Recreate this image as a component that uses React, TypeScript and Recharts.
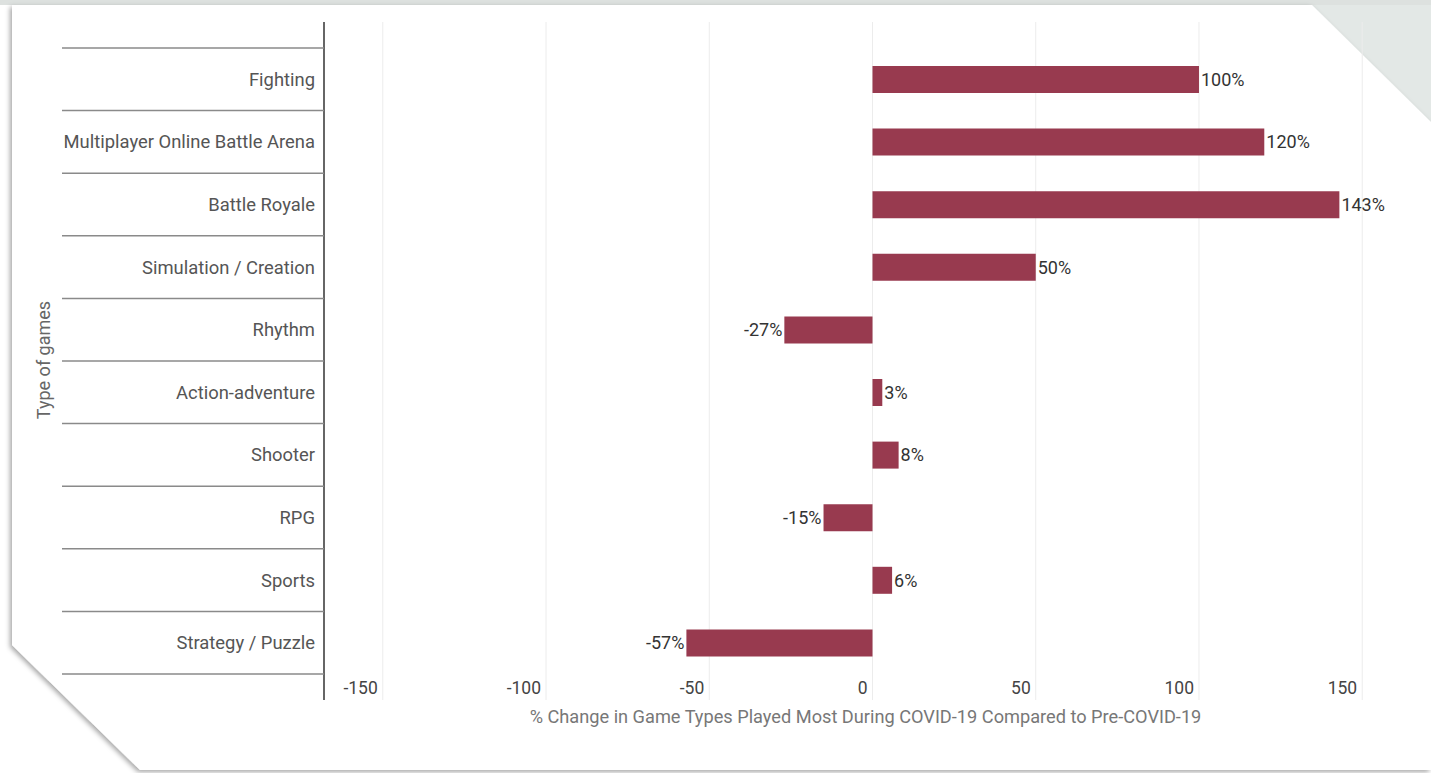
import React from 'react';
import { BarChart, Bar, XAxis, YAxis, CartesianGrid, LabelList } from 'recharts';

// categories, top to bottom
const gameTypes = [
  'Fighting',
  'Multiplayer Online Battle Arena',
  'Battle Royale',
  'Simulation / Creation',
  'Rhythm',
  'Action-adventure',
  'Shooter',
  'RPG',
  'Sports',
  'Strategy / Puzzle',
];

// % change
const changeValues = [100, 120, 143, 50, -27, 3, 8, -15, 6, -57];

const xTicks = [-150, -100, -50, 0, 50, 100, 150];

const W = 1431;
const H = 773;
const PLOT_TOP = 22;
const PLOT_BOTTOM = 700;
const Y_PAD = 26;
const AXIS_W = 324;
const BAND = (PLOT_BOTTOM - PLOT_TOP - 2 * Y_PAD) / gameTypes.length;

const FONT = 'Roboto, "Noto Sans", sans-serif';
const BAR_COLOR = '#983a4f';

const data = gameTypes.map((name, i) => ({ name, value: changeValues[i] }));

const CategoryTick = (props: any) => {
  const { y, payload, index } = props;
  const last = index === gameTypes.length - 1;
  return (
    <g>
      <line x1={62} x2={AXIS_W} y1={y - BAND / 2} y2={y - BAND / 2} stroke="#8a8a8a" strokeWidth={1.5} />
      {last && (
        <line x1={62} x2={AXIS_W} y1={y + BAND / 2} y2={y + BAND / 2} stroke="#8a8a8a" strokeWidth={1.5} />
      )}
      <text x={AXIS_W - 9} y={y} dy="0.35em" textAnchor="end" fill="#555" fontSize={18.4} fontFamily={FONT}>
        {payload.value}
      </text>
    </g>
  );
};

const ValueTick = (props: any) => {
  const { x, payload } = props;
  return (
    <text x={x - 5} y={PLOT_BOTTOM - 12} dy="0.35em" textAnchor="end" fill="#444" fontSize={17.5} fontFamily={FONT}>
      {payload.value}
    </text>
  );
};

const BarValue = (props: any) => {
  const { x, y, width, height, value } = props;
  const left = Math.min(x, x + width);
  const right = Math.max(x, x + width);
  const pos = value >= 0;
  return (
    <text
      x={pos ? right + 2 : left - 2}
      y={y + height / 2}
      dy="0.35em"
      textAnchor={pos ? 'start' : 'end'}
      fill="#333"
      fontSize={18}
      fontFamily={FONT}
    >
      {value}%
    </text>
  );
};

const YTitle = () => (
  <text
    x={44}
    y={360}
    transform="rotate(-90, 44, 360)"
    dy="0.35em"
    textAnchor="middle"
    fill="#666"
    fontSize={18}
    fontFamily={FONT}
  >
    Type of games
  </text>
);

const XTitle = (props: any) => {
  const vb = props.viewBox || {};
  return (
    <text
      x={vb.x + vb.width / 2 - 7}
      y={717}
      dy="0.35em"
      textAnchor="middle"
      fill="#777"
      fontSize={18.2}
      fontFamily={FONT}
    >
      % Change in Game Types Played Most During COVID-19 Compared to Pre-COVID-19
    </text>
  );
};

const App = () => {
  return (
    <div style={{ position: 'absolute', left: 0, top: 0, width: W, height: H, background: '#fff', overflow: 'hidden' }}>
      <svg width={W} height={H} style={{ position: 'absolute', left: 0, top: 0 }}>
        <defs>
          <filter id="cardShadow" x="-5%" y="-5%" width="110%" height="110%">
            <feDropShadow dx={-2} dy={2} stdDeviation={2.5} floodColor="#000" floodOpacity={0.35} />
          </filter>
        </defs>
        <polygon points={`0,0 ${W},0 ${W},130 1300,0`} fill="#e3e8e6" />
        <rect x={0} y={0} width={W} height={5} fill="#dde1df" />
        <polygon
          points={`12,5 1312,5 ${W},122 ${W},770 140,770 12,645`}
          fill="#fff"
          filter="url(#cardShadow)"
        />
      </svg>
      <div style={{ position: 'absolute', left: 0, top: 0 }}>
        <BarChart
          width={W}
          height={H}
          data={data}
          layout="vertical"
          margin={{ top: PLOT_TOP, right: 10, bottom: 0, left: 0 }}
          barCategoryGap={0}
        >
          <CartesianGrid horizontal={false} stroke="#ececec" verticalValues={xTicks} />
          <XAxis
            type="number"
            domain={[-168, 168]}
            ticks={xTicks}
            axisLine={false}
            tickLine={false}
            tickSize={0}
            height={H - PLOT_BOTTOM}
            tick={<ValueTick />}
            label={<XTitle />}
          />
          <YAxis
            type="category"
            dataKey="name"
            width={AXIS_W}
            padding={{ top: Y_PAD, bottom: Y_PAD }}
            axisLine={{ stroke: '#666', strokeWidth: 2 }}
            tickLine={false}
            tick={<CategoryTick />}
            interval={0}
            label={<YTitle />}
          />
          <Bar dataKey="value" fill={BAR_COLOR} barSize={27} isAnimationActive={false}>
            <LabelList dataKey="value" content={<BarValue />} />
          </Bar>
        </BarChart>
      </div>
    </div>
  );
};

export default App;
